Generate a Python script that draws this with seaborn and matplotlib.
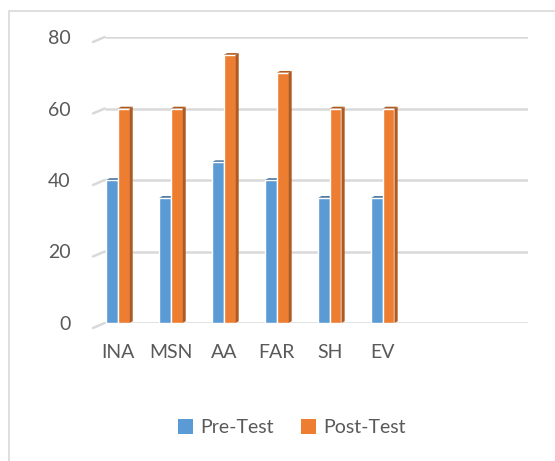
import pandas as pd
import matplotlib.pyplot as plt
import seaborn as sns
from matplotlib.patches import Polygon, Rectangle, Patch

# values
skills = ["INA", "MSN", "AA", "FAR", "SH", "EV"]
pre_test = [40, 35, 45, 40, 35, 35]
post_test = [60, 60, 75, 70, 60, 60]
series = ["Pre-Test", "Post-Test"]
colors = ["#5B9BD5", "#ED7D31"]
side_colors = ["#41719C", "#AE5A21"]
y_ticks = [0, 20, 40, 60, 80]

df = pd.DataFrame({
    "skill": skills * 2,
    "score": pre_test + post_test,
    "test": [series[0]] * len(skills) + [series[1]] * len(skills),
})

sns.set_theme(style="white")
plt.rcParams["font.family"] = ["Lato", "DejaVu Sans"]
text_color = "#595959"

W, H = 555, 461
fig = plt.figure(figsize=(W / 100, H / 100), dpi=100)

# chart frame (only top and left edges fall inside the picture)
fig.patches.append(Rectangle((9 / W, -0.1), 1.2, 1 - 11 / H + 0.1,
                             transform=fig.transFigure, fill=False,
                             edgecolor="#D9D9D9", linewidth=1.2, zorder=0))

ax = fig.add_axes([93 / W, 1 - 323 / H, 435 / W, 286 / H])
sns.barplot(data=df, x="skill", y="score", hue="test", order=skills,
            hue_order=series, palette=colors, width=0.44, gap=0,
            saturation=1, legend=False, ax=ax, zorder=3)

x_left, x_right = -0.47, 7.74
ax.set_xlim(x_left, x_right)
ax.set_ylim(0, 80)

# gridlines with a short slanted lead-in, like Excel's 3D floor
for y in y_ticks:
    ax.plot([-0.25, x_right], [y, y], color="#D9D9D9", lw=1.8, zorder=1,
            solid_capstyle="butt")
    ax.plot([x_left, -0.25], [y - 1.4, y], color="#D9D9D9", lw=1.8, zorder=1,
            clip_on=False)

# dark top faces on each bar, side face only where it is not hidden
dx, dy = 0.06, 0.5
for i, bar in enumerate(ax.patches[:2 * len(skills)]):
    s = i // len(skills)
    x0 = bar.get_x()
    x1 = x0 + bar.get_width()
    h = bar.get_height()
    if s == 1:
        ax.add_patch(Polygon([(x1, 0), (x1 + dx, dy), (x1 + dx, h + dy), (x1, h)],
                             closed=True, facecolor=side_colors[s],
                             edgecolor="none", zorder=3))
    ax.add_patch(Polygon([(x0, h), (x0 + dx, h + dy), (x1 + dx, h + dy), (x1, h)],
                         closed=True, facecolor=side_colors[s], edgecolor="none",
                         zorder=2.9))

ax.set_yticks(y_ticks)
ax.tick_params(axis="both", length=0, labelsize=14, labelcolor=text_color)
ax.tick_params(axis="y", pad=16)
ax.tick_params(axis="x", pad=15)
ax.set_xlabel("")
ax.set_ylabel("")
sns.despine(ax=ax, left=True, bottom=True)

handles = [Patch(facecolor=c, edgecolor="none") for c in colors]
fig.legend(handles, series, loc="center", bbox_to_anchor=(0.526, 0.072),
           ncol=2, frameon=False, fontsize=14, labelcolor=text_color,
           handlelength=0.75, handleheight=0.75, handletextpad=0.4,
           columnspacing=1.4)

fig.savefig("out.png", dpi=100)
